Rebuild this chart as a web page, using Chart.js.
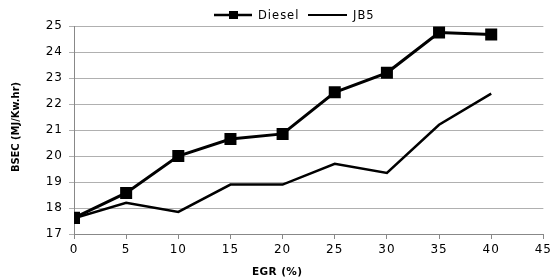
<!DOCTYPE html>
<html><head><meta charset="utf-8">
<script src="https://cdn.jsdelivr.net/npm/chart.js@4.4.0/dist/chart.umd.min.js"></script>
<style>html,body{margin:0;padding:0;background:#fff}#w{width:555px;height:280px;position:relative}</style>
</head><body><div id="w"><canvas id="c"></canvas></div>
<script>
const egr = [0, 5, 10, 15, 20, 25, 30, 35, 40];
const diesel = [17.62, 18.58, 20.0, 20.65, 20.85, 22.45, 23.2, 24.75, 24.67];
const jb5 = [17.6, 18.2, 17.85, 18.9, 18.9, 19.7, 19.35, 21.2, 22.4];
const xTicks = [0, 5, 10, 15, 20, 25, 30, 35, 40, 45];
const yTicks = [17, 18, 19, 20, 21, 22, 23, 24, 25];
const xTitle = 'EGR (%)';
const yTitle = 'BSEC (MJ/Kw.hr)';

const pts = (ys) => egr.map((x, i) => ({x: x, y: ys[i]}));

const decor = {
  id: 'decor',
  beforeDraw(chart) {
    chart.ctx.letterSpacing = '1px';
  },
  afterDraw(chart) {
    const ctx = chart.ctx;
    ctx.save();
    ctx.fillStyle = '#000';
    ctx.strokeStyle = '#000';
    // legend
    ctx.letterSpacing = '1px';
    ctx.font = '11.5px "DejaVu Sans"';
    ctx.textBaseline = 'middle';
    ctx.textAlign = 'left';
    const ly = 15;
    ctx.lineWidth = 2.5;
    ctx.beginPath(); ctx.moveTo(214, ly); ctx.lineTo(252, ly); ctx.stroke();
    ctx.fillRect(229, ly - 4, 9, 8);
    ctx.fillText(chart.data.datasets[0].label, 258, ly + 1);
    ctx.lineWidth = 2;
    ctx.beginPath(); ctx.moveTo(308, ly); ctx.lineTo(347, ly); ctx.stroke();
    ctx.fillText(chart.data.datasets[1].label, 353, ly + 1);
    // x title
    ctx.letterSpacing = '0.4px';
    ctx.font = 'bold 10.5px "DejaVu Sans"';
    ctx.textAlign = 'left';
    ctx.fillText(xTitle, 252, 272);
    // y title
    ctx.letterSpacing = '0px';
    ctx.translate(16, 127);
    ctx.rotate(-Math.PI / 2);
    ctx.textAlign = 'center';
    ctx.font = 'bold 11px "DejaVu Sans Condensed", "DejaVu Sans"';
    ctx.fillText(yTitle, 0, 0);
    ctx.restore();
    ctx.letterSpacing = '0px';
  }
};

new Chart(document.getElementById('c'), {
  type: 'line',
  data: {
    datasets: [
      {label: 'Diesel', data: pts(diesel), borderColor: '#000', backgroundColor: '#000', borderWidth: 3,
       pointStyle: 'rect', pointRadius: 8.5, pointHoverRadius: 8.5, pointBorderWidth: 0, tension: 0},
      {label: 'JB5', data: pts(jb5), borderColor: '#000', backgroundColor: '#000', borderWidth: 2.5,
       pointRadius: 0, pointHoverRadius: 0, tension: 0}
    ]
  },
  options: {
    responsive: true, maintainAspectRatio: false, animation: false,
    layout: {padding: {top: 26, right: 8, bottom: 0, left: 4}},
    plugins: {tooltip: {enabled: false}, legend: {display: false}},
    scales: {
      x: {
        type: 'linear', min: 0, max: 45,
        afterBuildTicks: (s) => { s.ticks = xTicks.map(v => ({value: v})); },
        afterFit: (s) => { s.height = 46; },
        grid: {display: true, drawOnChartArea: false, drawTicks: true, tickLength: 5, color: '#888'},
        border: {color: '#888', width: 1},
        ticks: {color: '#000', font: {family: 'DejaVu Sans', size: 12}, padding: 4, maxRotation: 0}
      },
      y: {
        min: 17, max: 25,
        afterBuildTicks: (s) => { s.ticks = yTicks.map(v => ({value: v})); },
        afterFit: (s) => { s.width = 70; },
        grid: {color: '#b0b0b0', drawTicks: true, tickLength: 5, lineWidth: 1},
        border: {color: '#888', width: 1},
        ticks: {color: '#000', font: {family: 'DejaVu Sans', size: 12}, padding: 6}
      }
    }
  },
  plugins: [decor]
});
</script></body></html>
